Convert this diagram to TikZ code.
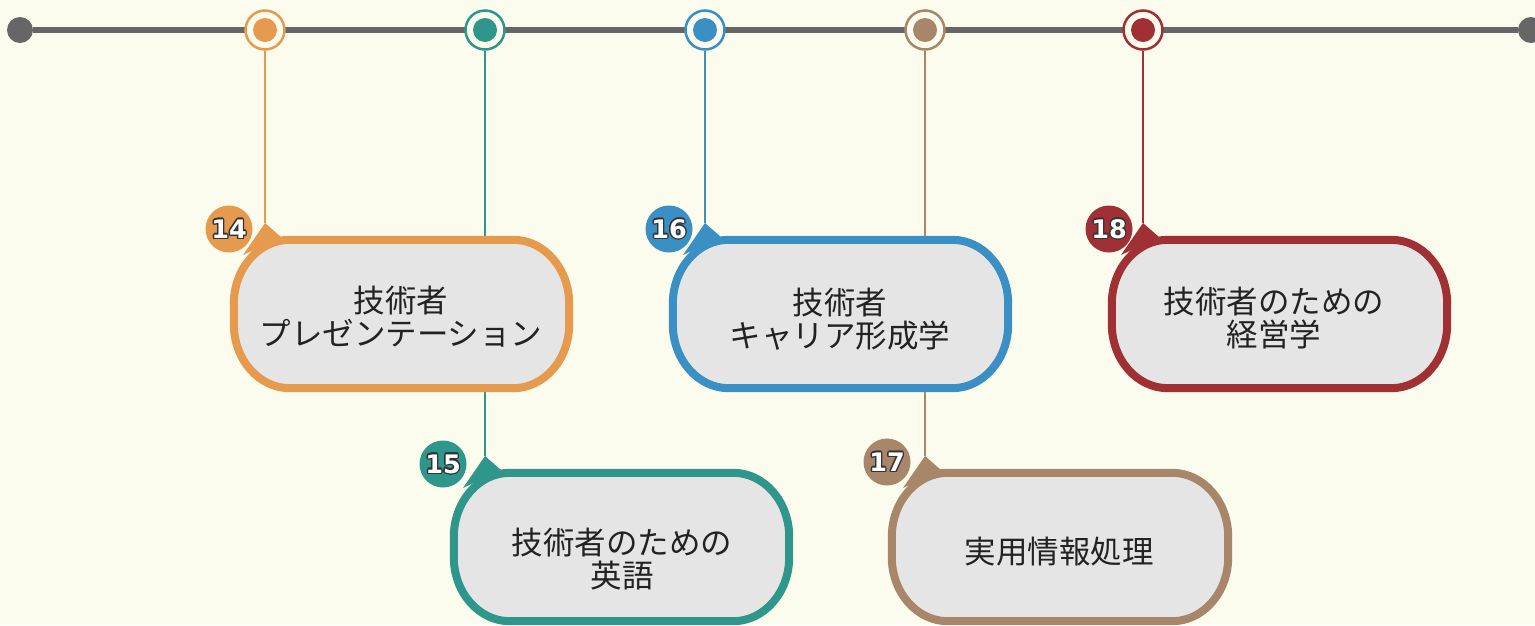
\documentclass[tikz,border=0pt]{standalone}
\usepackage{fontspec}
\newfontfamily\jp{Noto Sans CJK JP}
\newfontfamily\numf{DejaVu Sans}
\definecolor{bg}{HTML}{FCFCEE}
\definecolor{tl}{HTML}{666666}
\definecolor{cOr}{HTML}{E69A4E}
\definecolor{cTe}{HTML}{2E968B}
\definecolor{cBl}{HTML}{3A8FC4}
\definecolor{cBr}{HTML}{A8866A}
\definecolor{cRd}{HTML}{A03034}
\definecolor{boxg}{HTML}{E5E5E5}
\definecolor{txt}{HTML}{222222}
\definecolor{numout}{HTML}{333333}
\tikzset{
  ring/.style={circle, line width=2.5pt, fill=bg, minimum size=39pt, inner sep=0pt},
  dotm/.style={circle, minimum size=24pt, inner sep=0pt},
  vline/.style={line width=2.7pt},
  boxnode/.style={rectangle, inner sep=0pt, minimum width=335pt, minimum height=148pt},
  jptext/.style={align=center, text=txt, inner sep=0pt, font=\jp\fontsize{31.5}{33}\selectfont},
  numsty/.style={inner sep=0pt, font=\numf\bfseries\fontsize{25.5}{25.5}\selectfont},
  badgesty/.style={circle, minimum size=47pt, inner sep=0pt},
}
\newcommand\boxout[2]{%
  \filldraw[line width=8pt, draw=#2, fill=boxg]
   ([xshift=56pt]#1.north west) -- ([xshift=-56pt]#1.north east)
   arc[start angle=90,end angle=0,x radius=56pt,y radius=64pt]
   -- ([yshift=64pt]#1.south east)
   arc[start angle=0,end angle=-90,x radius=56pt,y radius=64pt]
   -- ([xshift=56pt]#1.south west)
   arc[start angle=-90,end angle=-180,x radius=56pt,y radius=64pt]
   -- ([yshift=-64pt]#1.north west)
   arc[start angle=180,end angle=90,x radius=56pt,y radius=64pt] -- cycle;}
\newcommand\badge[5]{%
  \node[badgesty, fill=#4] (#1) at (#2,#3) {};
  \foreach \a in {0,30,...,330} \node[numsty, text=numout] at ([shift={(\a:1.4pt)}]#1.center) {#5};
  \node[numsty, text=white] at (#1.center) {#5};}
\begin{document}
\begin{tikzpicture}[x=1pt,y=-1pt]
\fill[bg] (0,0) rectangle (1535,625);
\useasboundingbox (0,0) rectangle (1535,625);
% timeline
\node[circle, fill=tl, minimum size=26pt, inner sep=0pt] (L) at (20,30) {};
\node[circle, fill=tl, minimum size=26pt, inner sep=0pt] (R) at (1531,30) {};
\draw[tl, line width=6pt] (L) -- (R);
% marker positions and tips
\coordinate (tip14) at (265,223);
\coordinate (tip15) at (485,456);
\coordinate (tip16) at (705,223);
\coordinate (tip17) at (925,456);
\coordinate (tip18) at (1143,223);
\node[ring, draw=cOr] (m14) at (265,30) {};
\node[ring, draw=cTe] (m15) at (485,30) {};
\node[ring, draw=cBl] (m16) at (705,30) {};
\node[ring, draw=cBr] (m17) at (925,30) {};
\node[ring, draw=cRd] (m18) at (1143,30) {};
% vertical connectors
\draw[vline, cOr] (m14.south) -- (tip14);
\draw[vline, cTe] (m15.south) -- (tip15);
\draw[vline, cBl] (m16.south) -- (tip16);
\draw[vline, cBr] (m17.south) -- (tip17);
\draw[vline, cRd] (m18.south) -- (tip18);
% marker dots
\node[dotm, fill=cOr] (d14) at (m14) {};
\node[dotm, fill=cTe] (d15) at (m15) {};
\node[dotm, fill=cBl] (d16) at (m16) {};
\node[dotm, fill=cBr] (d17) at (m17) {};
\node[dotm, fill=cRd] (d18) at (m18) {};
% pointers
\fill[cOr] (tip14) -- ++(-22,32) -- ++(38,-18) -- cycle;
\fill[cTe] (tip15) -- ++(-22,32) -- ++(38,-18) -- cycle;
\fill[cBl] (tip16) -- ++(-22,32) -- ++(38,-18) -- cycle;
\fill[cBr] (tip17) -- ++(-22,32) -- ++(38,-18) -- cycle;
\fill[cRd] (tip18) -- ++(-22,32) -- ++(38,-18) -- cycle;
% boxes
\node[boxnode] (b14) at (401.5,314) {};
\node[boxnode] (b15) at (621.5,547) {};
\node[boxnode] (b16) at (840.5,314) {};
\node[boxnode, minimum width=336pt] (b17) at (1060,547) {};
\node[boxnode] (b18) at (1279.5,314) {};
\boxout{b14}{cOr}
\boxout{b15}{cTe}
\boxout{b16}{cBl}
\boxout{b17}{cBr}
\boxout{b18}{cRd}
% texts
\node[jptext] (t14) at (401,317) {技術者\\プレゼンテーション};
\node[jptext] (t15) at (622,559) {技術者のための\\英語};
\node[jptext] (t16) at (840,319) {技術者\\キャリア形成学};
\node[jptext] (t17) at (1059,552) {実用情報処理};
\node[jptext] (t18) at (1274,318) {技術者のための\\経営学};
% badges
\badge{n14}{229}{229}{cOr}{14}
\badge{n15}{443}{464}{cTe}{15}
\badge{n16}{669}{229}{cBl}{16}
\badge{n17}{887}{462}{cBr}{17}
\badge{n18}{1109}{229}{cRd}{18}
\end{tikzpicture}
\end{document}
